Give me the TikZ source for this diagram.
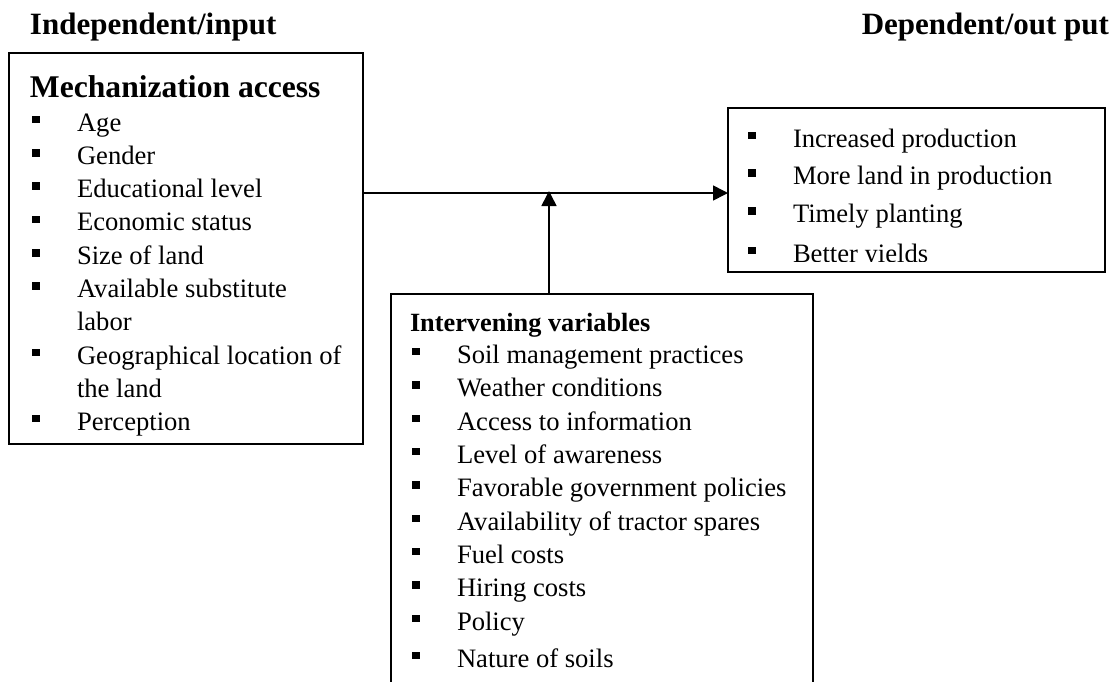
\documentclass[tikz,border=0pt]{standalone}
\usepackage{fontspec}
\setmainfont{Liberation Serif}
\usetikzlibrary{arrows.meta}
\newcommand\mybul{\makebox[45pt][l]{\rule[7.7pt]{7.5pt}{7.5pt}}}
\begin{document}
\begin{tikzpicture}[x=1pt,y=-1pt,
  box/.style={draw=black, line width=1.6pt, inner sep=0pt, outer sep=0pt, anchor=north west},
  txt/.style={anchor=base west, inner sep=0pt, outer sep=0pt, font=\fontsize{26.6}{30}\selectfont},
  ttl/.style={anchor=base west, inner sep=0pt, outer sep=0pt, font=\bfseries\fontsize{31}{36}\selectfont},
  hdr/.style={anchor=base west, inner sep=0pt, outer sep=0pt, font=\bfseries\fontsize{26.3}{30}\selectfont},
  edge/.style={draw=black, line width=1.6pt},
  arr/.style={draw=black, line width=1.6pt, -{Triangle[length=15pt,width=15pt]}}]
\fill[white] (0,0) rectangle (1120,681);
\useasboundingbox (0,0) rectangle (1120,681);

% titles
\node[ttl] (tin) at (30,34.5) {Independent/input};
\node[ttl, anchor=base east] (tout) at (1109,34.5) {Dependent/out put};

% left box
\node[box, minimum width=354pt, minimum height=391pt] (mech) at (9,53) {};
\node[ttl, font=\bfseries\fontsize{31.6}{36}\selectfont] (mh) at (30,97) {Mechanization access};
\node[txt] (m1) at (32,131) {\mybul Age};
\node[txt] (m2) at (32,164.3) {\mybul Gender};
\node[txt] (m3) at (32,197.6) {\mybul Educational level};
\node[txt] (m4) at (32,230.9) {\mybul Economic status};
\node[txt] (m5) at (32,264.2) {\mybul Size of land};
\node[txt] (m6) at (32,297.5) {\mybul Available substitute};
\node[txt] (m6b) at (77,330.8) {labor};
\node[txt] (m7) at (32,364.1) {\mybul Geographical location of};
\node[txt] (m7b) at (77,397.4) {the land};
\node[txt] (m8) at (32,430) {\mybul Perception};

% right box
\node[box, minimum width=377pt, minimum height=164pt] (out) at (728,108) {};
\node[txt] (o1) at (748,147) {\mybul Increased production};
\node[txt] (o2) at (748,184.5) {\mybul More land in production};
\node[txt] (o3) at (748,222.5) {\mybul Timely planting};
\begin{scope}
  \clip (728,108) rectangle (1105,261);
  \node[txt] (o4) at (748,262) {\mybul Better yields};
\end{scope}

% bottom box (open at the bottom edge of the picture)
\node[box, draw=none, minimum width=422pt, minimum height=400pt] (inter) at (391,294) {};
\coordinate (bot) at (0,700);
\draw[edge] (inter.north west |- bot) -- (inter.north west) -- (inter.north east) -- (inter.north east |- bot);
\node[hdr] (ih) at (410,331) {Intervening variables};
\node[txt] (i1) at (412,363) {\mybul Soil management practices};
\node[txt] (i2) at (412,396.5) {\mybul Weather conditions};
\node[txt] (i3) at (412,430) {\mybul Access to information};
\node[txt] (i4) at (412,463) {\mybul Level of awareness};
\node[txt] (i5) at (412,496.5) {\mybul Favorable government policies};
\node[txt] (i6) at (412,530) {\mybul Availability of tractor spares};
\node[txt] (i7) at (412,563) {\mybul Fuel costs};
\node[txt] (i8) at (412,596.5) {\mybul Hiring costs};
\node[txt] (i9) at (412,630) {\mybul Policy};
\node[txt] (i10) at (412,667) {\mybul Nature of soils};

% connectors
\coordinate (j) at (549,193);
\draw[arr] (mech.east |- j) -- (out.west |- j);
\draw[arr, shorten >=-2pt] (inter.north -| j) -- (j);
\end{tikzpicture}
\end{document}
